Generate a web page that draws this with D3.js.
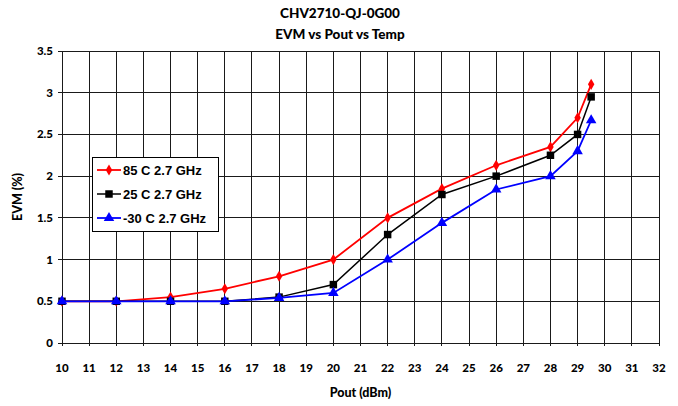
<!DOCTYPE html>
<html>
<head>
<meta charset="utf-8">
<script src="https://cdn.jsdelivr.net/npm/d3@7"></script>
<style>
  body { margin: 0; background: #fff; }
  text { font-family: 'Lato', 'DejaVu Sans', sans-serif; font-weight: 900; fill: #000; }
</style>
</head>
<body>
<script>
// Pout (dBm) sample points
const pout = [10, 12, 14, 16, 18, 20, 22, 24, 26, 28, 29, 29.5]
// EVM (%) per temperature
const evm85 = [0.5, 0.5, 0.55, 0.65, 0.8, 1.0, 1.5, 1.85, 2.13, 2.35, 2.7, 3.1]
const evm25 = [0.5, 0.5, 0.5, 0.5, 0.55, 0.7, 1.3, 1.78, 2.0, 2.25, 2.5, 2.95]
const evmM30 = [0.5, 0.5, 0.5, 0.5, 0.54, 0.6, 1.0, 1.44, 1.84, 2.0, 2.3, 2.67]
const seriesNames = ['85 C 2.7 GHz', '25 C 2.7 GHz', '-30 C 2.7 GHz']
const xTicks = d3.range(10, 33, 1)
const yTicks = [0, 0.5, 1, 1.5, 2, 2.5, 3, 3.5]

const width = 678
const height = 406
const margin = { top: 51, right: 19, bottom: 63, left: 62 }

const series = [
  { name: seriesNames[0], values: evm85, color: '#ff0000', symbol: d3.symbolDiamond, size: 36, lw: 1.8 },
  { name: seriesNames[1], values: evm25, color: '#000000', symbol: d3.symbolSquare, size: 56, lw: 1.5 },
  { name: seriesNames[2], values: evmM30, color: '#0000ff', symbol: d3.symbolTriangle, size: 48, lw: 1.8 }
]

const svg = d3.select('body').append('svg')
  .attr('width', width)
  .attr('height', height)

const x = d3.scaleLinear().domain([10, 32]).range([margin.left, width - margin.right])
const y = d3.scaleLinear().domain([0, 3.5]).range([height - margin.bottom, margin.top])

// grid
const grid = svg.append('g').attr('stroke', '#1a1a1a').attr('stroke-width', 1).attr('shape-rendering', 'crispEdges')
grid.selectAll('line.v')
  .data(xTicks)
  .join('line')
  .attr('class', 'v')
  .attr('x1', d => x(d)).attr('x2', d => x(d))
  .attr('y1', y(3.5)).attr('y2', y(0) + 3)
grid.selectAll('line.h')
  .data(yTicks)
  .join('line')
  .attr('class', 'h')
  .attr('x1', x(10) - 4).attr('x2', x(32))
  .attr('y1', d => y(d)).attr('y2', d => y(d))

// axis labels
svg.append('g')
  .selectAll('text')
  .data(yTicks)
  .join('text')
  .attr('x', x(10) - 9)
  .attr('y', d => y(d))
  .attr('dy', '0.35em')
  .attr('text-anchor', 'end')
  .attr('font-size', 11.5)
  .text(d => d)

svg.append('g')
  .selectAll('text')
  .data(xTicks)
  .join('text')
  .attr('x', d => x(d))
  .attr('y', y(0) + 25)
  .attr('dy', '0.35em')
  .attr('text-anchor', 'middle')
  .attr('font-size', 11.5)
  .text(d => d)

svg.append('text')
  .attr('x', (x(10) + x(32)) / 2)
  .attr('y', 397)
  .attr('text-anchor', 'middle')
  .attr('font-size', 12.5)
  .text('Pout (dBm)')

svg.append('text')
  .attr('transform', `translate(22,${(y(0) + y(3.5)) / 2}) rotate(-90)`)
  .attr('text-anchor', 'middle')
  .attr('font-size', 12.5)
  .text('EVM (%)')

svg.append('text')
  .attr('x', 340).attr('y', 18)
  .attr('text-anchor', 'middle')
  .attr('font-size', 13.5)
  .text('CHV2710-QJ-0G00')
svg.append('text')
  .attr('x', 340).attr('y', 39)
  .attr('text-anchor', 'middle')
  .attr('font-size', 13.5)
  .text('EVM vs Pout vs Temp')

// lines + markers
const line = d3.line().x(d => x(d[0])).y(d => y(d[1]))
for (const s of series) {
  const pts = pout.map((p, i) => [p, s.values[i]])
  svg.append('path')
    .attr('d', line(pts))
    .attr('fill', 'none')
    .attr('stroke', s.color)
    .attr('stroke-width', s.lw)
  svg.append('g')
    .selectAll('path')
    .data(pts)
    .join('path')
    .attr('transform', d => `translate(${x(d[0])},${y(d[1])})`)
    .attr('d', d3.symbol(s.symbol, s.size))
    .attr('fill', s.color)
}

// legend
const lg = svg.append('g').attr('transform', 'translate(92,157)')
lg.append('rect')
  .attr('width', 126).attr('height', 74)
  .attr('fill', '#fff').attr('stroke', '#000').attr('stroke-width', 1)
  .attr('shape-rendering', 'crispEdges')
series.forEach((s, i) => {
  const ly = 13 + i * 24
  lg.append('line')
    .attr('x1', 5).attr('x2', 29).attr('y1', ly).attr('y2', ly)
    .attr('stroke', s.color).attr('stroke-width', s.lw)
  lg.append('path')
    .attr('transform', `translate(17,${ly})`)
    .attr('d', d3.symbol(s.symbol, s.size))
    .attr('fill', s.color)
  lg.append('text')
    .attr('x', 31).attr('y', ly)
    .attr('dy', '0.35em')
    .style('font-family', "'Liberation Sans', Arial, sans-serif")
    .style('font-weight', '700')
    .attr('font-size', 13)
    .text(s.name)
})
</script>
</body>
</html>
